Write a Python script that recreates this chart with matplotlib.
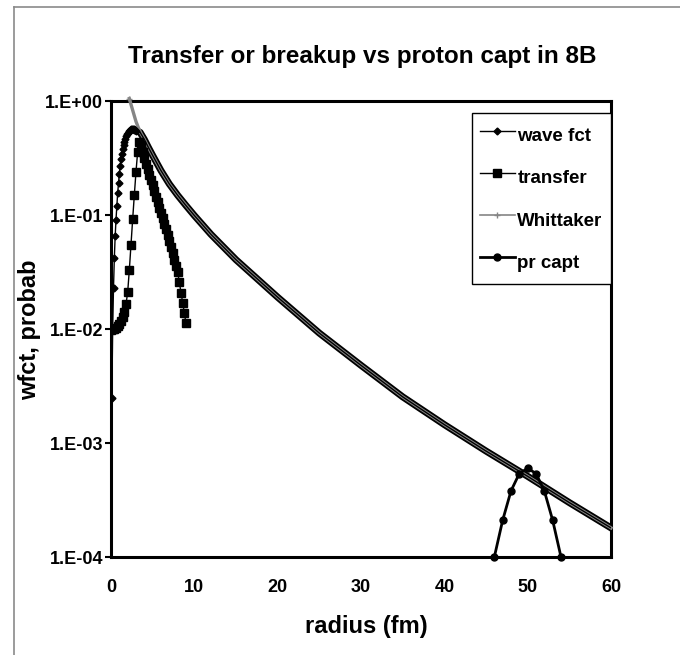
import matplotlib
matplotlib.use("Agg")
import matplotlib.pyplot as plt
from matplotlib.lines import Line2D
from matplotlib.ticker import NullLocator

plt.rcParams['font.family'] = ['Liberation Sans', 'DejaVu Sans']

# wave function (r in fm)
wave_r = [0.1, 0.2, 0.3, 0.4, 0.5, 0.6, 0.7, 0.8, 0.9, 1.0,
          1.1, 1.2, 1.3, 1.4, 1.5, 1.6, 1.7, 1.8, 1.9, 2.0,
          2.1, 2.2, 2.3, 2.4, 2.5, 2.6, 2.7, 2.8, 2.9, 3.0,
          3.5, 4, 4.5, 5, 6, 7, 8, 9, 10, 12, 15, 20, 25, 30,
          35, 40, 45, 50, 55, 60]
wave_v = [0.0025, 0.010, 0.023, 0.042, 0.065, 0.091, 0.12, 0.155, 0.19, 0.23,
          0.27, 0.31, 0.345, 0.38, 0.41, 0.44, 0.465, 0.49, 0.51, 0.527,
          0.54, 0.55, 0.558, 0.563, 0.566, 0.566, 0.564, 0.56, 0.555, 0.55,
          0.53, 0.46, 0.39, 0.333, 0.245, 0.187, 0.149, 0.121, 0.099, 0.0676,
          0.0405, 0.019, 0.0092, 0.0048, 0.00254, 0.00145, 0.00085, 0.00051,
          0.0003, 0.00018]

# transfer
tr_r = [0.0, 0.2, 0.4, 0.6, 0.8, 1.0, 1.2, 1.4, 1.6, 1.8,
        2.0, 2.2, 2.4, 2.6, 2.8, 3.0, 3.2, 3.4, 3.6, 3.8,
        4.0, 4.2, 4.4, 4.6, 4.8, 5.0, 5.2, 5.4, 5.6, 5.8,
        6.0, 6.2, 6.4, 6.6, 6.8, 7.0, 7.2, 7.4, 7.6, 7.8,
        8.0, 8.2, 8.4, 8.6, 8.8, 9.0]
tr_v = [0.0098, 0.0099, 0.0100, 0.0102, 0.0106, 0.0111, 0.0118, 0.0128, 0.0142, 0.0165,
        0.021, 0.033, 0.055, 0.092, 0.15, 0.24, 0.36, 0.44, 0.41, 0.36,
        0.316, 0.282, 0.251, 0.226, 0.204, 0.182, 0.162, 0.145, 0.129, 0.116,
        0.105, 0.0933, 0.0832, 0.075, 0.0668, 0.0596, 0.0525, 0.0462, 0.0407, 0.0359,
        0.0316, 0.0257, 0.0209, 0.017, 0.0138, 0.0112]

# Whittaker
wh_r = [2.2, 2.5, 2.8, 3.0, 3.3, 3.6, 4, 4.5, 5, 6, 7, 8, 10, 12, 15,
        20, 25, 30, 35, 40, 45, 50, 55, 60]
wh_v = [1.05, 0.88, 0.74, 0.66, 0.58, 0.52, 0.46, 0.39, 0.333, 0.245, 0.187,
        0.149, 0.099, 0.0676, 0.0405, 0.019, 0.0092, 0.0048, 0.00254,
        0.00145, 0.00085, 0.00051, 0.0003, 0.00018]

# proton capture
pc_r = [46, 47, 48, 49, 50, 51, 52, 53, 54]
pc_v = [1.0e-4, 2.1e-4, 3.8e-4, 5.4e-4, 6.0e-4, 5.4e-4, 3.8e-4, 2.1e-4, 1.0e-4]

ytick_vals = [1e-4, 1e-3, 1e-2, 1e-1, 1e0]
ytick_labels = ['1.E-04', '1.E-03', '1.E-02', '1.E-01', '1.E+00']
xtick_vals = [0, 10, 20, 30, 40, 50, 60]

fig = plt.figure(figsize=(6.8, 6.55), dpi=100)
ax = fig.add_axes([111/680, 1-557/655, 500/680, 456/655])

# thick black part of the wave fct under the grey Whittaker
tail = [i for i, r in enumerate(wave_r) if r >= 3.0]
ax.plot([wave_r[i] for i in tail], [wave_v[i] for i in tail],
        color='black', lw=5.0, zorder=2)
ax.plot(wave_r, wave_v, color='black', lw=1.0, marker='D', ms=3.5,
        markevery=[r <= 3.0 for r in wave_r], label='wave fct', zorder=4)
ax.plot(tr_r, tr_v, color='black', lw=1.0, marker='s', ms=6,
        label='transfer', zorder=4)
ax.plot(wh_r, wh_v, color='#858585', lw=2.4, marker='+', ms=4, mew=1,
        markevery=[0], label='Whittaker', zorder=3, clip_on=False)
ax.plot(pc_r, pc_v, color='black', lw=2.0, marker='o', ms=5,
        label='pr capt', zorder=5, clip_on=False)

ax.set_yscale('log')
ax.set_xlim(0, 60)
ax.set_ylim(1e-4, 1)
ax.set_yticks(ytick_vals, ytick_labels)
ax.yaxis.set_minor_locator(NullLocator())
ax.set_xticks(xtick_vals)
ax.tick_params(axis='y', length=4, width=1.5, pad=1.5, labelsize=13)
ax.tick_params(axis='x', length=0, pad=16, labelsize=13)
for t in ax.get_xticklabels() + ax.get_yticklabels():
    t.set_fontweight('bold')
for s in ax.spines.values():
    s.set_linewidth(2.2)

ax.set_xlabel('radius (fm)', fontsize=17, fontweight='bold')
ax.xaxis.set_label_coords(0.51, (28-98)/456)
ax.xaxis.label.set_verticalalignment('center')
ax.set_ylabel('wfct, probab', fontsize=17, fontweight='bold')
ax.yaxis.set_label_coords((30-111)/500, 0.498)
ax.yaxis.label.set_verticalalignment('center')

fig.text(362/680, 1-57/655, 'Transfer or breakup vs proton capt in 8B',
         ha='center', va='center', fontsize=17.5, fontweight='bold')

leg = ax.legend(loc='upper left', bbox_to_anchor=(472/680, 1-113/655),
                bbox_transform=fig.transFigure, fancybox=False, framealpha=1,
                edgecolor='black', borderaxespad=0,
                prop={'size': 13.5, 'weight': 'bold'},
                handlelength=1.85, handletextpad=0.15, labelspacing=0.7,
                handleheight=2.0, borderpad=0.42, numpoints=1)
leg.get_frame().set_linewidth(1.0)
leg.get_lines()[2].set_linewidth(1.2)

# outer chart frame
fig.add_artist(Line2D([14/680, 14/680], [0, 1-7/655], transform=fig.transFigure,
                      color='#8a8a8a', lw=1.2))
fig.add_artist(Line2D([14/680, 1], [1-7/655, 1-7/655], transform=fig.transFigure,
                      color='#8a8a8a', lw=1.2))

fig.savefig('out.png', dpi=100)
